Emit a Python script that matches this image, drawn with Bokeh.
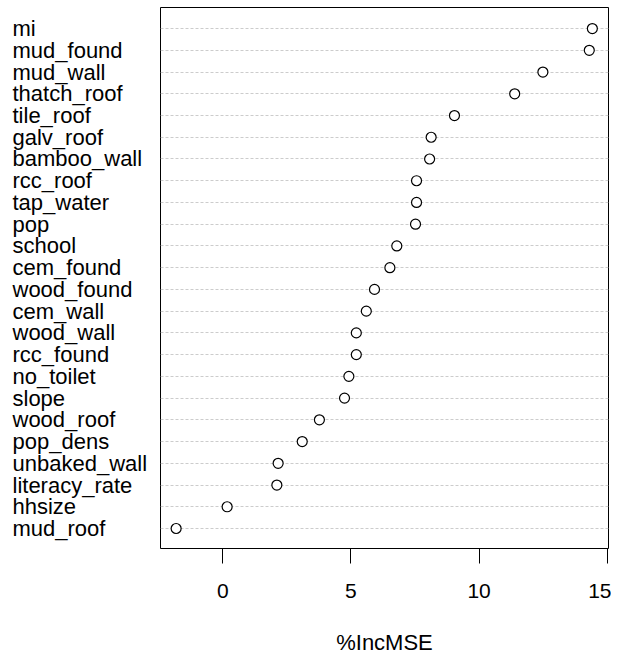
from bokeh.plotting import figure
from bokeh.models import ColumnDataSource, FixedTicker, Range1d
from bokeh.layouts import row
from bokeh.core.properties import value
from bokeh.embed import file_html
from bokeh.resources import INLINE

variables = ["mi", "mud_found", "mud_wall", "thatch_roof", "tile_roof", "galv_roof",
             "bamboo_wall", "rcc_roof", "tap_water", "pop", "school", "cem_found",
             "wood_found", "cem_wall", "wood_wall", "rcc_found", "no_toilet", "slope",
             "wood_roof", "pop_dens", "unbaked_wall", "literacy_rate", "hhsize", "mud_roof"]
inc_mse = [14.42, 14.30, 12.49, 11.39, 9.04, 8.13,
           8.07, 7.56, 7.56, 7.52, 6.79, 6.52,
           5.92, 5.60, 5.21, 5.21, 4.92, 4.75,
           3.77, 3.10, 2.16, 2.11, 0.17, -1.82]
x_ticks = [0, 5, 10, 15]
x_label = "%IncMSE"

n = len(variables)
rows = [n - i for i in range(n)]
FONT = "Liberation Sans"
H = 658
TOP = 7
BOTTOM = 110

src = ColumnDataSource(dict(name=variables, val=inc_mse, row=rows, lx=[12] * n))
yr = Range1d(0.08, 24.97)

# left panel with variable names
lp = figure(width=160, height=H, output_backend="svg", toolbar_location=None,
            x_range=Range1d(0, 160), y_range=yr,
            min_border_left=0, min_border_right=0, min_border_top=TOP,
            min_border_bottom=BOTTOM)
lp.outline_line_color = None
lp.grid.visible = False
lp.axis.visible = False
lp.text("lx", "row", text="name", source=src, text_font=value(FONT),
        text_font_size="22px", text_color="black", text_align="left",
        text_baseline="middle")

p = figure(width=451, height=H, output_backend="svg", toolbar_location=None,
           x_range=Range1d(-2.43, 15.05), y_range=yr,
           min_border_left=0, min_border_right=3, min_border_top=TOP,
           min_border_bottom=BOTTOM)
p.background_fill_color = "white"
p.border_fill_color = "white"
p.outline_line_color = "black"
p.outline_line_width = 1
p.outline_line_alpha = 1

p.xgrid.visible = False
p.ygrid.ticker = FixedTicker(ticks=rows)
p.ygrid.grid_line_color = "#cccccc"
p.ygrid.grid_line_dash = "3 2"
p.ygrid.grid_line_width = 1
p.yaxis.visible = False

p.xaxis.ticker = FixedTicker(ticks=x_ticks)
p.xaxis.axis_label = x_label
p.xaxis.axis_line_color = None
p.xaxis.major_tick_out = 15
p.xaxis.major_tick_in = 0
p.xaxis.minor_tick_line_color = None
p.xaxis.major_tick_line_color = "black"
p.xaxis.major_label_text_font = FONT
p.xaxis.major_label_text_font_size = "21px"
p.xaxis.major_label_text_color = "black"
p.xaxis.major_label_standoff = 20
p.xaxis.axis_label_text_font = FONT
p.xaxis.axis_label_text_font_size = "22px"
p.xaxis.axis_label_text_font_style = "normal"
p.xaxis.axis_label_text_color = "black"
p.xaxis.axis_label_standoff = 29

p.scatter("val", "row", source=src, size=10, marker="circle",
          fill_color="white", line_color="black", line_width=1.2)

layout = row(lp, p, spacing=0)
open("out.html", "w").write(file_html(layout, INLINE))
